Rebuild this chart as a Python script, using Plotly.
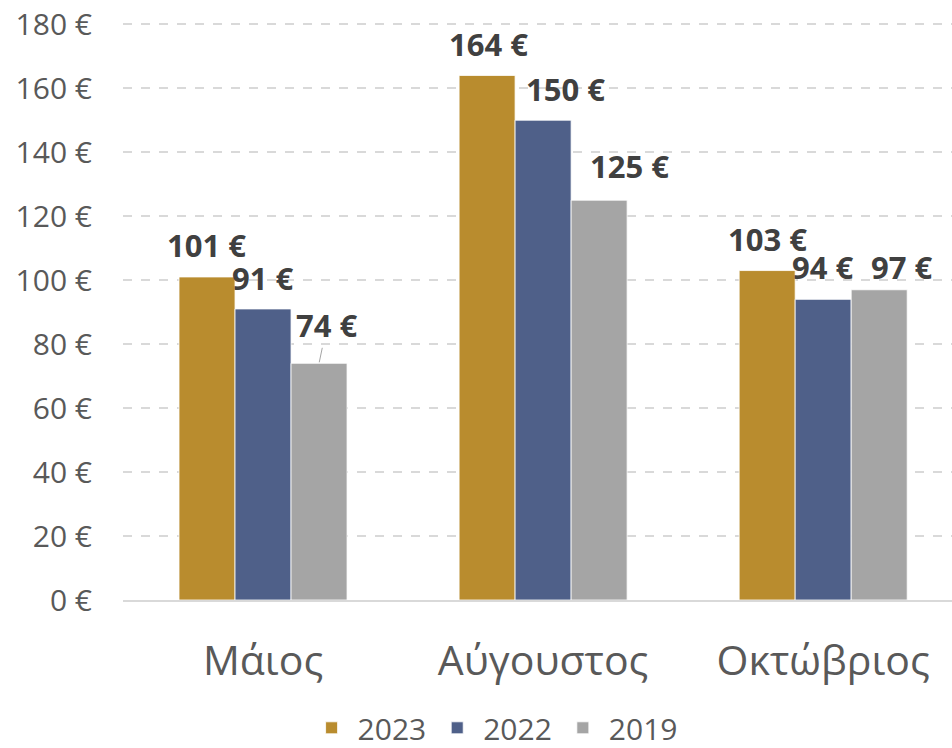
import plotly.graph_objects as go


MONTHS = ["Μάιος", "Αύγουστος", "Οκτώβριος"]
YEARS = ["2023", "2022", "2019"]
VALUES_2023 = [101, 164, 103]
VALUES_2022 = [91, 150, 94]
VALUES_2019 = [74, 125, 97]
Y_TICKS = [0, 20, 40, 60, 80, 100, 120, 140, 160, 180]

COLORS = ["#B98C2E", "#4F6089", "#A5A5A5"]
LABEL_COLOR = "#404040"
TICK_COLOR = "#595959"
GRID_COLOR = "#D9D9D9"
FONT = "Open Sans, Noto Sans, sans-serif"

BAR_PX = 56  # width of one bar in the rendered chart
# excel moved a few labels sideways so they don't collide: (dx, dy) px
LABEL_NUDGE = [
    [(-1, 32), (1, 31), (0, 32)],
    [(0, 31), (22, 31), (0, 32)],
    [(8, 38), (30, 34), (23, 23)],
]
LEADER = {(2, 0)}  # 74 € has a leader line back to its bar


fig = go.Figure()
series = [VALUES_2023, VALUES_2022, VALUES_2019]
for year, values, color in zip(YEARS, series, COLORS):
    fig.add_trace(
        go.Bar(
            name=year,
            x=MONTHS,
            y=values,
            marker=dict(color=color, line=dict(color="white", width=0.8)),
        )
    )

for i, values in enumerate(series):
    for j, (month, val) in enumerate(zip(MONTHS, values)):
        dx, dy = LABEL_NUDGE[i][j]
        xshift = (i - 1) * BAR_PX
        ann = dict(
            x=month,
            y=val,
            text=f"{val} €",
            font=dict(family=FONT, size=31, color=LABEL_COLOR, weight="bold"),
        )
        if (i, j) in LEADER:
            ann.update(
                showarrow=True,
                arrowhead=0,
                arrowwidth=1,
                arrowcolor="#A5A5A5",
                ax=dx,
                ay=-dy,
                xshift=xshift,
                standoff=1,
            )
        else:
            ann.update(
                showarrow=False,
                xshift=xshift + dx,
                yshift=dy,
                yanchor="middle",
            )
        fig.add_annotation(**ann)

fig.update_layout(
    width=952,
    height=748,
    barmode="group",
    bargap=0.4,
    bargroupgap=0,
    plot_bgcolor="white",
    paper_bgcolor="white",
    margin=dict(l=123, r=0, t=23, b=148, autoexpand=False),
    font=dict(family=FONT, color=TICK_COLOR),
    legend=dict(
        orientation="h",
        xref="container",
        yref="container",
        x=0.519,
        y=0.027,
        xanchor="center",
        yanchor="middle",
        font=dict(size=30, color=TICK_COLOR),
        itemwidth=42,
    ),
)
fig.update_xaxes(
    range=[-0.5, 2.46],
    automargin=False,
    showline=True,
    linecolor=GRID_COLOR,
    linewidth=2,
    showgrid=False,
    tickfont=dict(size=41, color=TICK_COLOR),
    ticklabelstandoff=24,
)
# a hair of headroom so the 180 gridline is not clipped at the top edge
fig.update_yaxes(
    range=[0, 180.4],
    automargin=False,
    tickvals=Y_TICKS,
    ticktext=[f"{t} €" for t in Y_TICKS],
    ticklabeloverflow="allow",
    showgrid=True,
    gridcolor=GRID_COLOR,
    gridwidth=1.5,
    griddash="dash",
    zeroline=False,
    showline=False,
    tickfont=dict(size=30, color=TICK_COLOR),
    ticklabelstandoff=30,
)

# drop the default body margin so the figure sits flush in the window
fig.write_html(
    "out.html",
    config={"displayModeBar": False},
    post_script="document.body.style.margin = '0';",
)
